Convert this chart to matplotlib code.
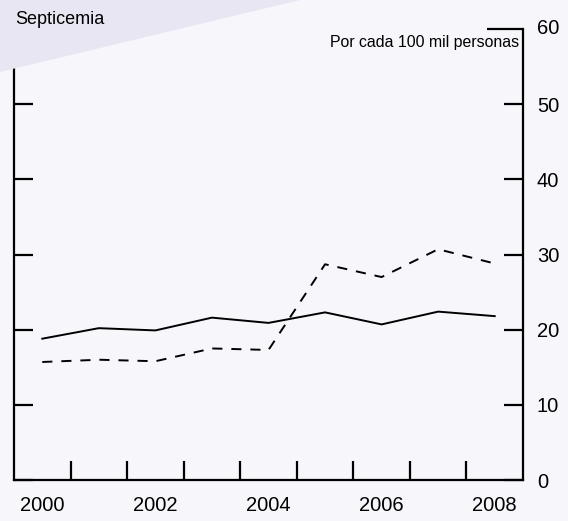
import matplotlib
matplotlib.use("Agg")
import matplotlib.pyplot as plt
from matplotlib.patches import Polygon
from matplotlib.ticker import FixedLocator, NullFormatter

plt.rcParams['font.family'] = ['Liberation Sans', 'DejaVu Sans']

years = [2000, 2001, 2002, 2003, 2004, 2005, 2006, 2007, 2008]
solid_values = [18.8, 20.2, 19.9, 21.6, 20.9, 22.3, 20.7, 22.4, 21.8]
dashed_values = [15.7, 16.0, 15.8, 17.5, 17.3, 28.7, 27.0, 30.7, 28.8]
year_labels = [2000, 2002, 2004, 2006, 2008]
y_ticks = [0, 10, 20, 30, 40, 50, 60]

W, H = 568, 521
fig = plt.figure(figsize=(W / 100, H / 100), dpi=100)
fig.patch.set_facecolor('#f6f6fb')
fig.patches.append(Polygon([(0, 1), (300 / W, 1), (0, 1 - 72 / H)], closed=True,
                           transform=fig.transFigure, facecolor='#e7e6f2',
                           edgecolor='none', zorder=0))

ax = fig.add_axes([14 / W, 1 - 480 / H, (523 - 14) / W, (480 - 29) / H])
ax.set_facecolor('none')

ax.plot(years, solid_values, color='black', lw=1.4)
ax.plot(years, dashed_values, color='black', lw=1.4, linestyle=(0, (5.2, 4.6)))

ax.set_xlim(1999.5, 2008.5)
ax.set_ylim(0, 60)

for s in ['left', 'right', 'bottom']:
    ax.spines[s].set_linewidth(1.6)
    ax.spines[s].set_color('black')
ax.spines['top'].set_visible(False)

# x: ticks between years, labels at year points
ax.xaxis.set_major_locator(FixedLocator(year_labels))
ax.set_xticklabels([str(y) for y in year_labels])
ax.xaxis.set_minor_locator(FixedLocator([y + 0.5 for y in years[:-1]]))
ax.tick_params(axis='x', which='major', length=0, pad=11.5, labelsize=14.5)
ax.tick_params(axis='x', which='minor', direction='in', length=13.7, width=1.6)

# y: ticks on both sides, labels on right
ax.yaxis.set_major_locator(FixedLocator(y_ticks[:-1]))
ax.yaxis.set_minor_locator(FixedLocator([60]))
ax.yaxis.set_minor_formatter(NullFormatter())
ax.tick_params(axis='y', which='both', direction='in', left=True, right=True,
               labelleft=False, labelright=True, width=1.6)
ax.tick_params(axis='y', which='major', length=13.5, pad=10, labelsize=14.5)
ax.tick_params(axis='y', which='minor', length=26)
ax.annotate('60', xy=(1, 60), xycoords=ax.get_yaxis_transform(),
            xytext=(10, 0), textcoords='offset points', ha='left', va='center',
            fontsize=14.5)

fig.text(15 / W, 1 - 24 / H, 'Septicemia', fontsize=13, ha='left', va='baseline')
fig.text(519 / W, 1 - 43 / H, 'Por cada 100 mil personas', fontsize=11.4,
         ha='right', va='center')

fig.savefig('out.png', dpi=100, facecolor=fig.get_facecolor())
